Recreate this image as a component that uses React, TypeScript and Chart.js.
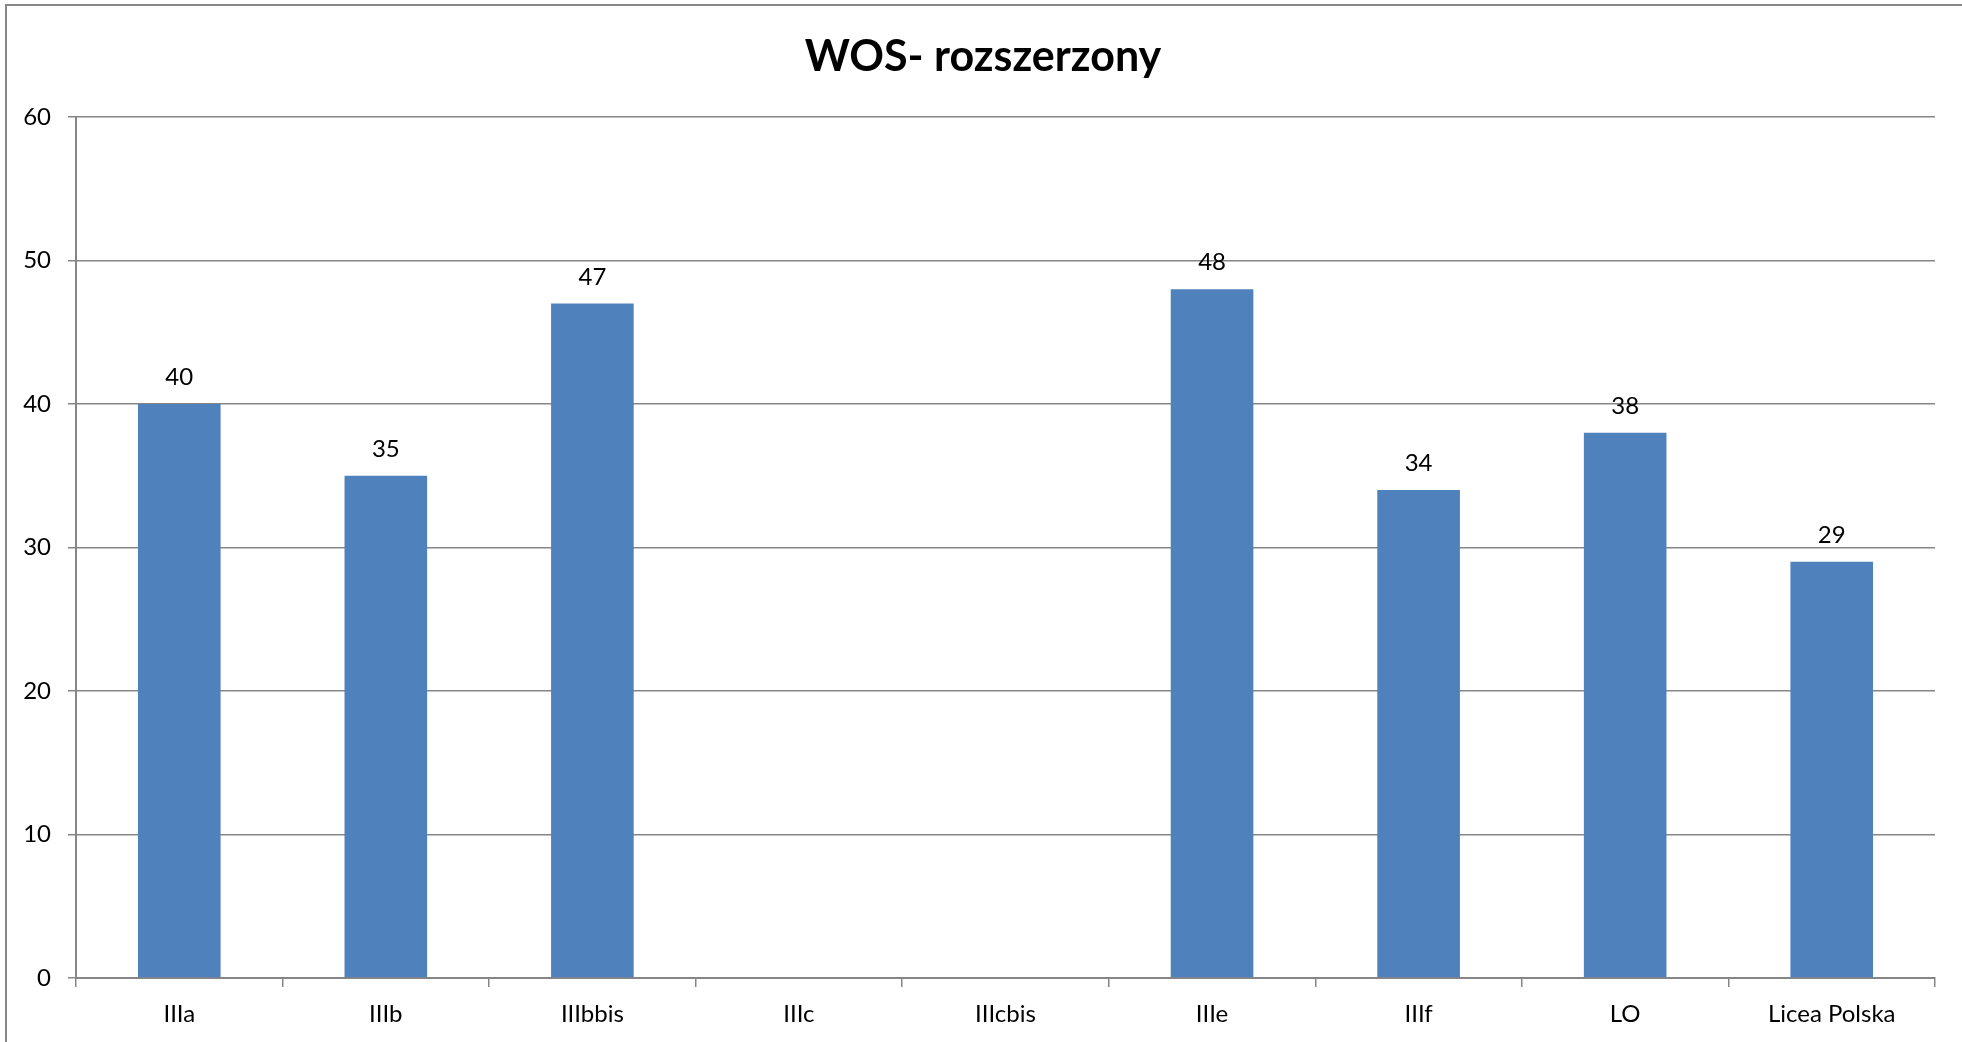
import React, { useEffect, useRef } from "react";
import { Chart, registerables } from "chart.js";

Chart.register(...registerables);

const title = "WOS- rozszerzony";
const categories = ["IIIa", "IIIb", "IIIbbis", "IIIc", "IIIcbis", "IIIe", "IIIf", "LO", "Licea Polska"];
const values: (number | null)[] = [40, 35, 47, null, null, 48, 34, 38, 29];
const yTicks = [0, 10, 20, 30, 40, 50, 60];

const FONT = "Lato, 'Open Sans', 'DejaVu Sans', sans-serif";
const GRID = "#868686";
const BAR = "#4F81BD";

export default function App() {
  const ref = useRef<HTMLCanvasElement>(null);

  useEffect(() => {
    document.body.style.margin = "0";
    const canvas = ref.current;
    if (!canvas) return;

    const titlePlugin = {
      id: "titleText",
      afterDraw(chart: any) {
        const ctx = chart.ctx;
        ctx.save();
        ctx.fillStyle = "#000";
        ctx.font = `bold 43px ${FONT}`;
        ctx.textAlign = "center";
        ctx.textBaseline = "alphabetic";
        ctx.fillText(title, 983, 71);
        ctx.restore();
      },
    };

    const valueLabels = {
      id: "valueLabels",
      afterDatasetsDraw(chart: any) {
        const ctx = chart.ctx;
        const meta = chart.getDatasetMeta(0);
        ctx.save();
        ctx.fillStyle = "#000";
        ctx.font = `24px ${FONT}`;
        ctx.textAlign = "center";
        ctx.textBaseline = "alphabetic";
        meta.data.forEach((el: any, i: number) => {
          const v = values[i];
          if (v === null || v === undefined) return;
          ctx.fillText(String(v), el.x, el.y - 19);
        });
        ctx.restore();
      },
    };

    const chart = new Chart(canvas, {
      type: "bar",
      data: {
        labels: categories,
        datasets: [
          {
            data: values,
            backgroundColor: BAR,
            barPercentage: 0.4,
            categoryPercentage: 1,
          },
        ],
      },
      options: {
        responsive: false,
        animation: false,
        layout: { padding: { top: 117, right: 27, bottom: 0, left: 0 } },
        plugins: {
          legend: { display: false },
          tooltip: { enabled: false },
          title: { display: false },
        },
        scales: {
          x: {
            offset: true,
            grid: {
              offset: true,
              drawOnChartArea: false,
              drawTicks: true,
              tickLength: 9,
              color: GRID,
              lineWidth: 1.5,
            },
            border: { color: GRID, width: 2 },
            ticks: {
              color: "#000",
              font: { family: FONT, size: 24 },
              padding: 13,
              maxRotation: 0,
              autoSkip: false,
            },
            afterFit(s: any) {
              s.height = 64;
            },
          },
          y: {
            min: 0,
            max: 60,
            afterBuildTicks(s: any) {
              s.ticks = yTicks.map((v) => ({ value: v }));
            },
            grid: { color: GRID, lineWidth: 1.5, tickLength: 8 },
            border: { color: GRID, width: 2 },
            ticks: {
              color: "#000",
              font: { family: FONT, size: 24 },
              padding: 17,
            },
            afterFit(s: any) {
              s.width = 76;
            },
          },
        },
      },
      plugins: [titlePlugin, valueLabels],
    } as any);

    return () => chart.destroy();
  }, []);

  return (
    <div
      style={{
        position: "absolute",
        left: 0,
        top: 0,
        width: 1962,
        height: 1042,
        overflow: "hidden",
        background: "#fff",
      }}
    >
      <canvas
        ref={ref}
        width={1962}
        height={1042}
        style={{ position: "absolute", left: 0, top: 0, width: 1962, height: 1042 }}
      />
      <div
        style={{
          position: "absolute",
          left: 5,
          top: 4,
          width: 2100,
          height: 1200,
          borderTop: "2px solid #878787",
          borderLeft: "2px solid #878787",
          pointerEvents: "none",
        }}
      />
    </div>
  );
}
